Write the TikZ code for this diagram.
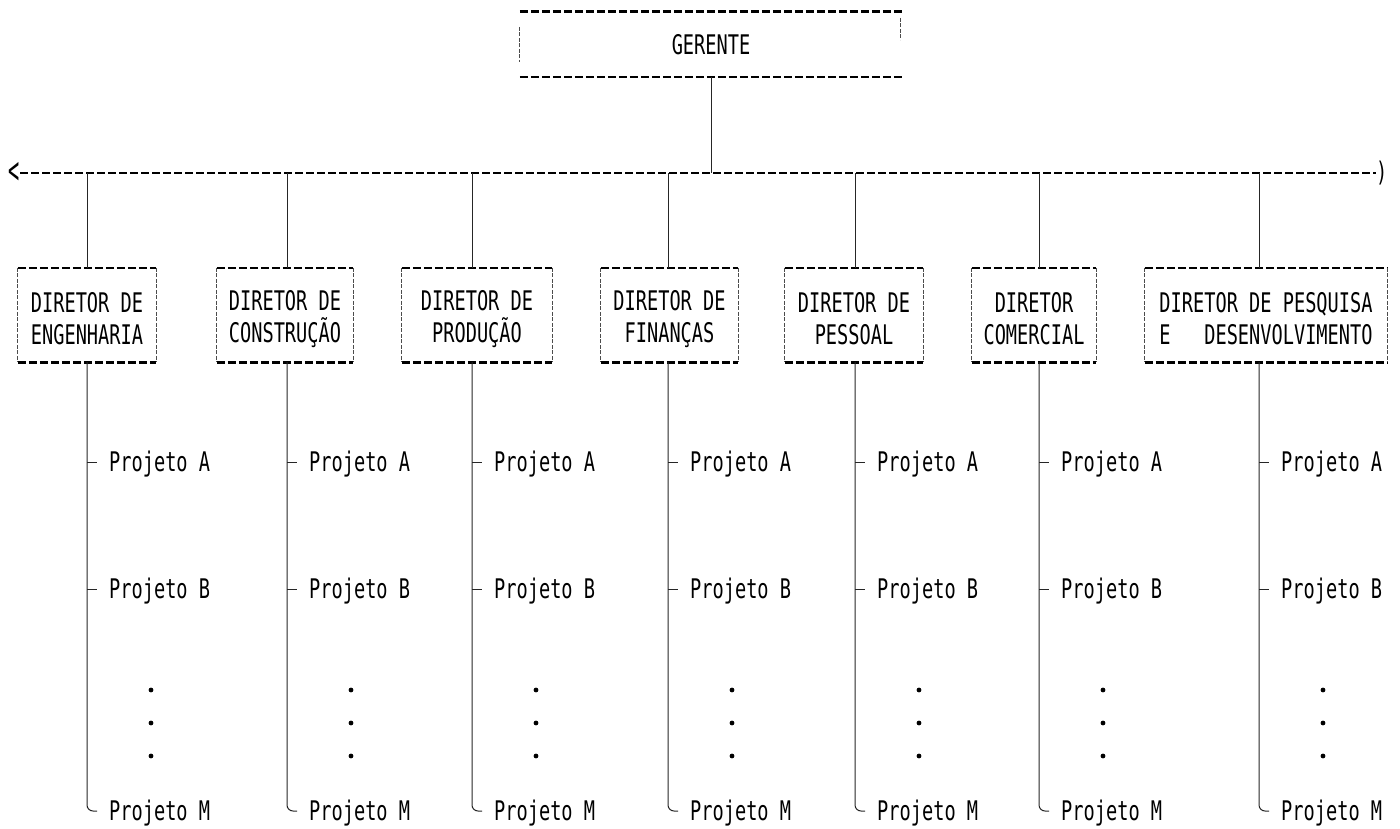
\documentclass[tikz,border=0pt]{standalone}
\usepackage{fontspec}
\newfontfamily\plotfont[FakeStretch=0.69]{DejaVu Sans Mono}
\newcommand\mkdirector[5]{%
 \node[box, minimum width=#4pt] (d#1) at (#3,315) {};
 \node[lbl, yshift=-4pt] (t#1) at (d#1.center) {#5};
 \coordinate (c#1) at (#2,173);
 \draw[hd] (d#1.north west) -- (d#1.north east);
 \draw[hd] (d#1.south west) -- (d#1.south east);
 \draw[sd] (d#1.north west) -- (d#1.south west);
 \draw[sd] (d#1.north east) -- (d#1.south east);
 \draw[vd] (c#1) -- (c#1 |- d#1.north);
 \node[proj] (a#1) at (#2+10,462) {Projeto A};
 \node[proj] (b#1) at (#2+10,589) {Projeto B};
 \node[proj] (m#1) at (#2+10,811) {Projeto M};
 \draw[vd, rounded corners=6pt] (c#1 |- d#1.south) |- (m#1.west);
 \draw[vd] (c#1 |- a#1.west) -- (a#1.west);
 \draw[vd] (c#1 |- b#1.west) -- (b#1.west);
 \fill[dotfill] (#2+64,690) circle (2.4);
 \fill[dotfill] (#2+64,723) circle (2.4);
 \fill[dotfill] (#2+64,756) circle (2.4);
}
\begin{document}
\begin{tikzpicture}[x=1pt,y=-1pt,
  hd/.style={line width=2.6pt, dash pattern=on 8pt off 3pt},
  vd/.style={line width=1pt, black!85},
  sd/.style={line width=0.9pt, black!70, dash pattern=on 4pt off 1.5pt},
  lbl/.style={font=\plotfont\fontsize{27}{32}\selectfont, align=center, inner sep=0pt},
  box/.style={minimum height=94pt, inner sep=0pt},
  proj/.style={font=\plotfont\fontsize{27}{32}\selectfont, anchor=west, inner xsep=12pt, inner ysep=0pt, text height=19.5pt, text depth=0pt},
  dotfill/.style={fill=black}
]
\useasboundingbox (0,0) rectangle (1400,829);

% top box
\node[lbl, minimum width=382pt, minimum height=65pt] (g) at (711,44.5) {GERENTE};
\draw[hd] (g.north west) -- (g.north east);
\draw[hd] (g.south west) -- (g.south east);
\draw[sd] (g.west) ++(0,-17.5) -- ++(0,35);
\draw[sd] (g.east) ++(-2,-26.5) -- ++(0,22);

% bus
\coordinate (busL) at (20,173);
\coordinate (busR) at (1376,173);
\draw[hd] (busL) -- (busR);
\node[lbl, anchor=east, yscale=1.4] (lt) at (busL) {<};
\node[lbl, anchor=west] (rt) at (busR) {)};
\draw[vd] (g.south) -- (g.south |- busL);

\mkdirector{1}{87}{87}{138}{DIRETOR DE\\ENGENHARIA}
\mkdirector{2}{287}{285}{136}{DIRETOR DE\\CONSTRUÇÃO}
\mkdirector{3}{472}{477}{150}{DIRETOR DE\\PRODUÇÃO}
\mkdirector{4}{668}{669.5}{137}{DIRETOR DE\\FINANÇAS}
\mkdirector{5}{855}{854}{138}{DIRETOR DE\\PESSOAL}
\mkdirector{6}{1039}{1034}{124}{DIRETOR\\COMERCIAL}
\mkdirector{7}{1259}{1266}{242}{DIRETOR DE PESQUISA\\E\ \ \ DESENVOLVIMENTO}
\end{tikzpicture}
\end{document}
